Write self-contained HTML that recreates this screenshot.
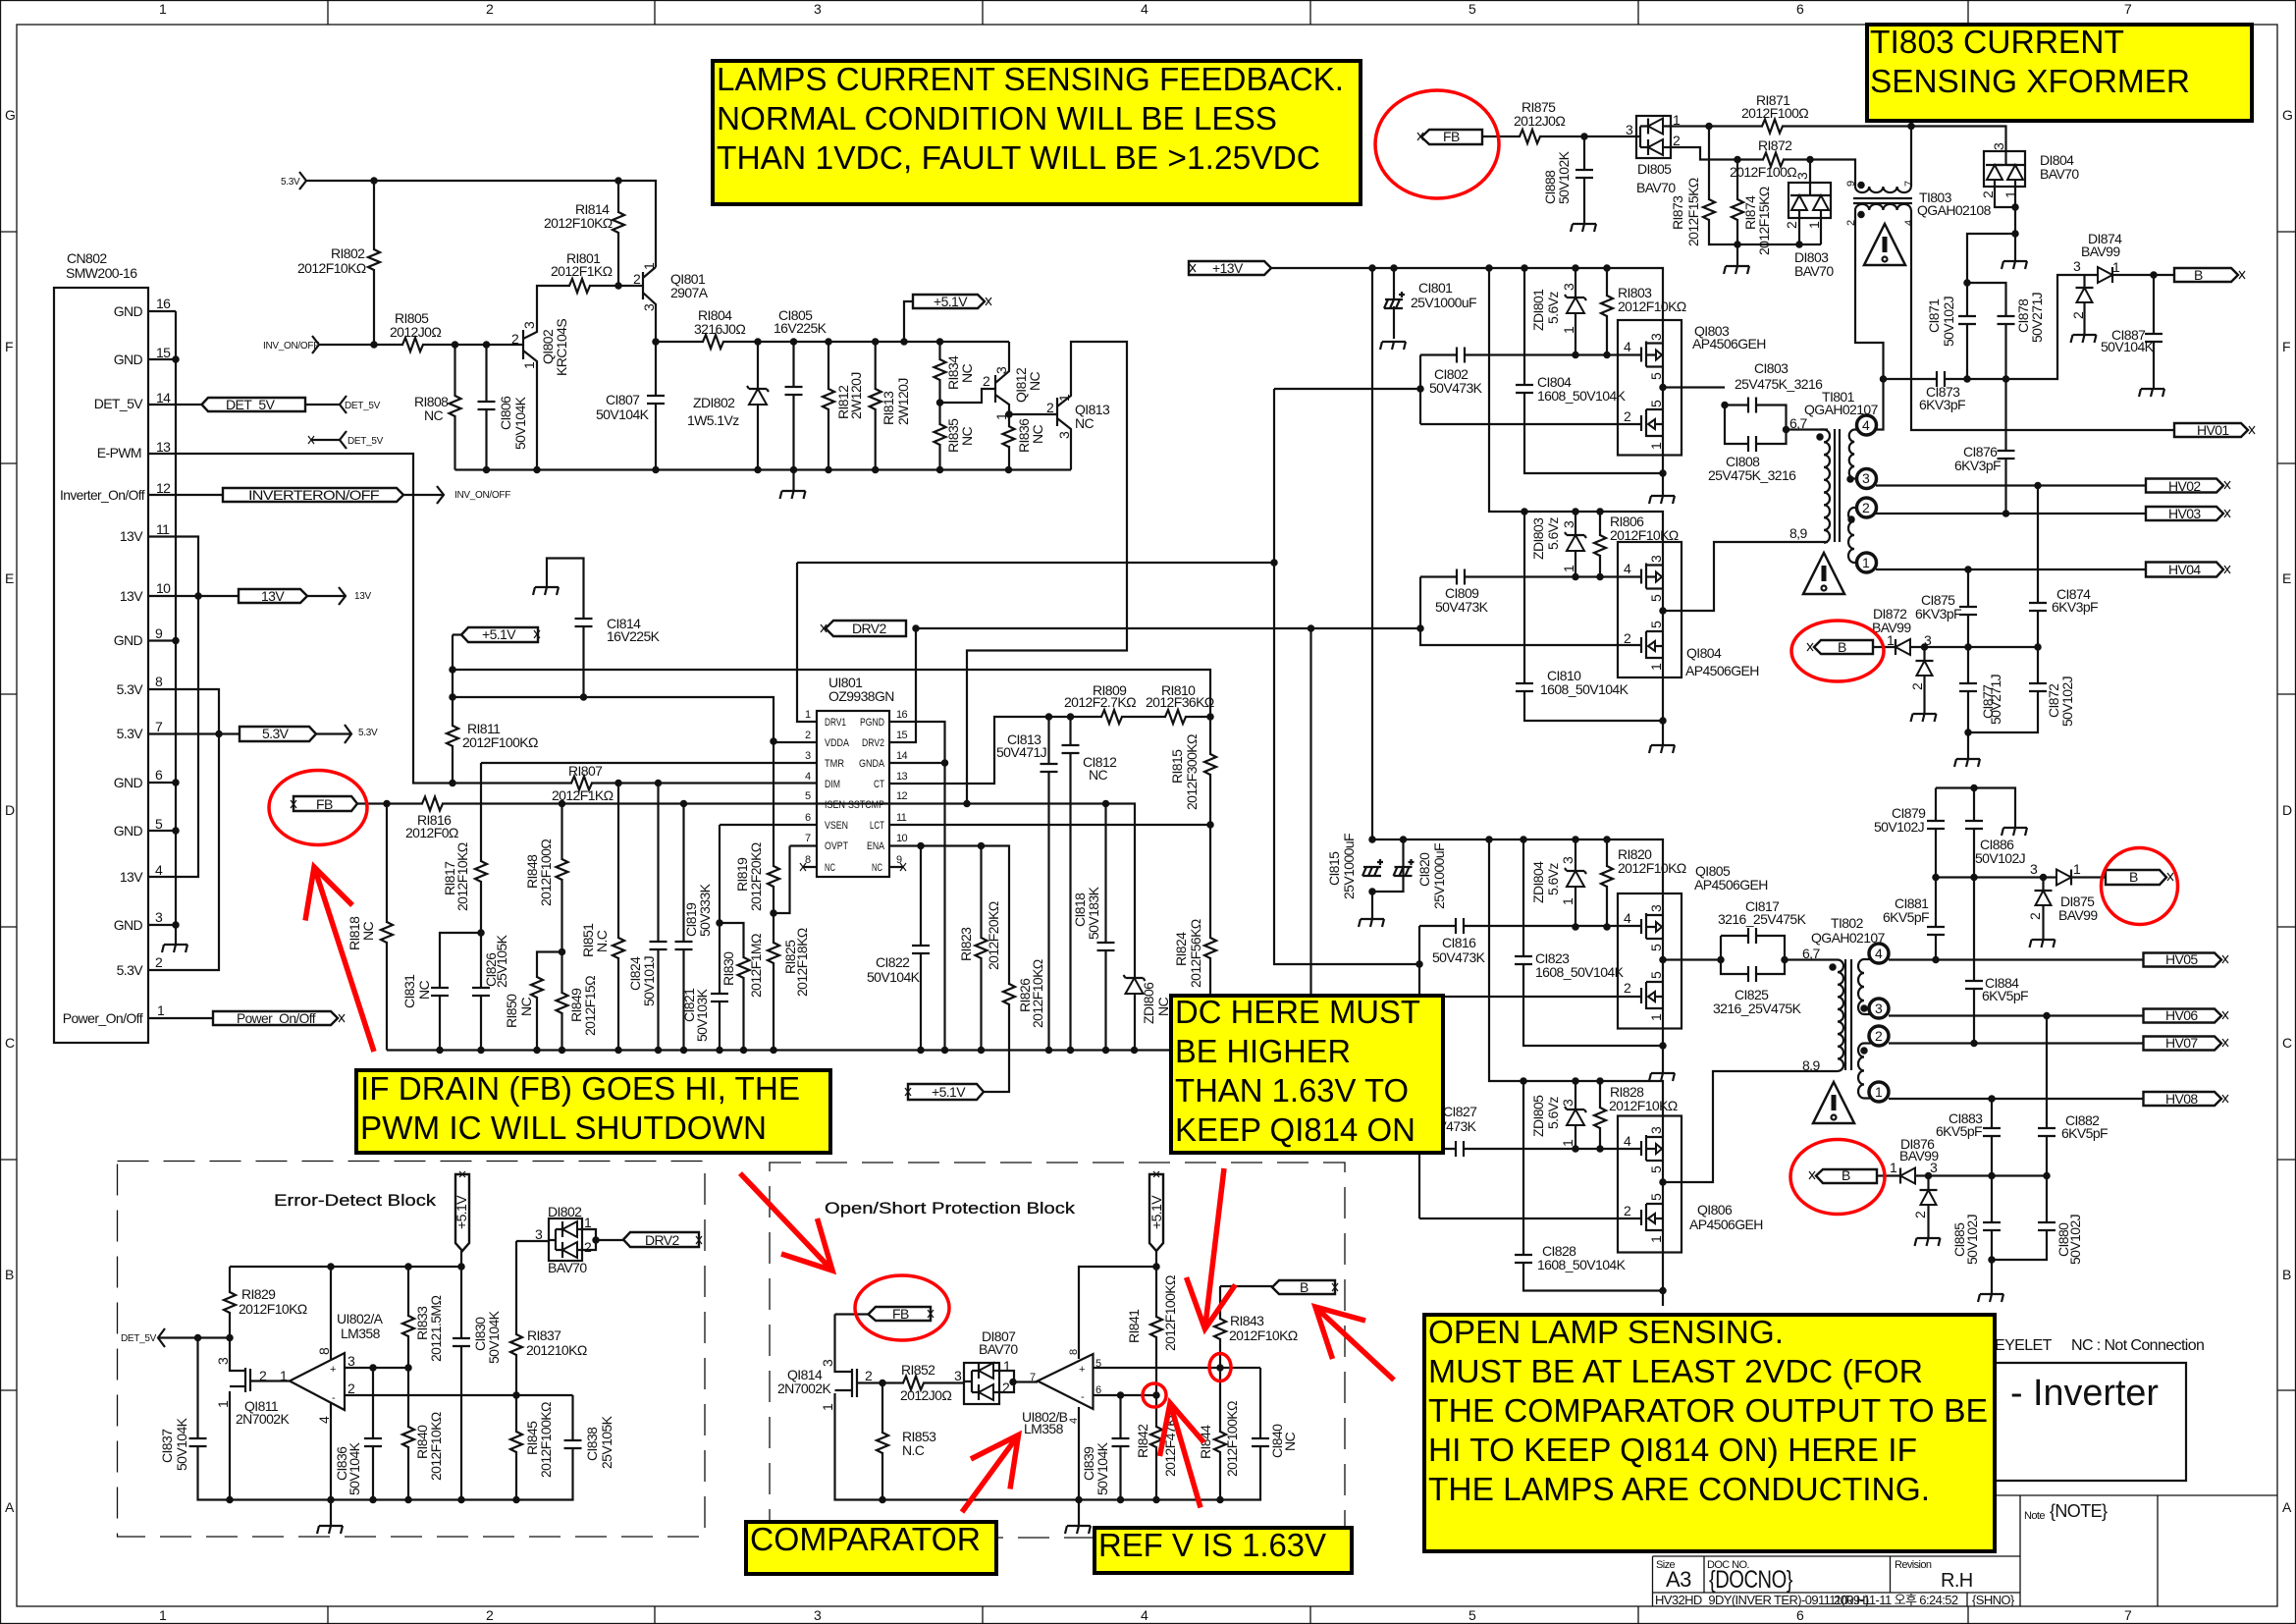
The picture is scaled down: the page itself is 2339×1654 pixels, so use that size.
<!DOCTYPE html>
<html><head><meta charset="utf-8"><style>
html,body{margin:0;padding:0;background:#fff}
svg{display:block}
text{font-family:"Liberation Sans","Noto Sans CJK KR",sans-serif;font-size:14px;fill:#111;stroke:none;letter-spacing:-.6px}
.s{font-size:10px;letter-spacing:-.3px}
.p{font-size:11px;letter-spacing:0}
.n{font-size:11px}
.b{font-size:33px;fill:#000;letter-spacing:0}
.h{font-size:17px;font-weight:400;stroke:#111;stroke-width:.3;letter-spacing:0}
.w{fill:none;stroke:#111;stroke-width:2.2}
.m{stroke:#fff;stroke-width:4}
.y{fill:#ff0;stroke:#000;stroke-width:4}
.c{fill:none;stroke:#f00;stroke-width:3.5}
.a{fill:none;stroke:#f00;stroke-width:5.5}
.f{fill:#fff;stroke:#111;stroke-width:2.4}
.e{fill:#fff;stroke:#111;stroke-width:2}
</style></head><body>
<svg width="2339" height="1654" viewBox="0 0 2339 1654" xmlns="http://www.w3.org/2000/svg">
<defs>
<g id="rv"><path class="m" d="M0 1V20"/><path d="M0 0L6 3L-6 8L6 13L-6 18L0 21"/></g>
<g id="rh"><path class="m" d="M1 0H20"/><path d="M0 0L3 -7L8 7L13 -7L18 7L21 0"/></g>
<g id="cv"><path class="m" d="M0-3V3"/><path d="M-9-4H9M-9 4H9"/></g>
<g id="ch"><path class="m" d="M-3 0H3"/><path d="M-4-8V8M4-8V8"/></g>
<g id="pol"><path class="m" d="M0-3V3"/><path d="M-9-4H9M-10 5L-6-4M-4 5L0-4M2 5L6-4M-10 5H9M5-9H11M8-12V-6"/></g>
<path id="g" d="M-12 0H12M-12 0L-14 8M0 0L-2 8M12 0L10 8"/>
<g id="fet"><path d="M-22-8V7M-17-14V12M-17-12H0M-17 12H0M-17 0H-7"/><path class="e" d="M-7-5V5L-1 0Z"/></g>
<g id="fe2"><path d="M-22-9V7M-17-15V13M-17-15H0M-17 12H0M-8 0H0"/><path class="e" d="M-8-5V5L-15 0Z"/></g>
<g id="dv"><path class="e" d="M0 0L-8 15H8Z"/><path d="M-9 0H9"/></g>
<g id="dr"><path class="e" d="M0-8V8L15 0Z"/><path d="M15-8V8"/></g>
<g id="dl"><path class="e" d="M15-8V8L0 0Z"/><path d="M0-8V8"/></g>
<g id="z"><path class="e" d="M0 0L-9 16H9Z"/><path d="M-9 0H9M9 0L11 3M-9 0L-11-3"/></g>
<g id="tri"><path class="e" style="stroke-width:2.5" d="M0 0L21 42H-21Z"/><path d="M0 13V29" style="stroke-width:5"/><circle cx="0" cy="36" r="2.5"/></g>
</defs>
<rect width="2339" height="1654" fill="#fff"/>
<g class="w" style="stroke-width:1.3">
<rect x=".5" y=".5" width="2338" height="1653"/>
<rect x="17" y="25" width="2303" height="1611"/>
<path d="M334 0V25M667 0V25M1001 0V25M1335 0V25M1669 0V25M2005 0V25M334 1636V1654M667 1636V1654M1001 1636V1654M1335 1636V1654M1669 1636V1654M2005 1636V1654M0 236H17M0 472H17M0 707H17M0 944H17M0 1181H17M0 1416H17M2320 236H2339M2320 472H2339M2320 707H2339M2320 944H2339M2320 1181H2339M2320 1416H2339"/>
<path stroke-dasharray="32 15" d="M119.500 1182.500H718V1565H119.500Z M784 1184H1370V1566H784Z"/>
<path d="M2033 1523H2320M2058 1523V1636M2198 1523V1636M1683.500 1585H2058M1683.500 1622H2058M1683.500 1585V1636M1736 1585V1622M1925.500 1585V1622M2004 1622V1636"/>
<path d="M2020 1388H2227V1508H2020" style="stroke-width:2.200"/>
</g>
<g font-size="16">
<text x="162" y="14">1</text><text x="495" y="14">2</text><text x="829" y="14">3</text><text x="1162" y="14">4</text><text x="1496" y="14">5</text><text x="1830" y="14">6</text><text x="2164" y="14">7</text>
<text x="162" y="1650">1</text><text x="495" y="1650">2</text><text x="829" y="1650">3</text><text x="1162" y="1650">4</text><text x="1496" y="1650">5</text><text x="1830" y="1650">6</text><text x="2164" y="1650">7</text>
<text x="5" y="122">G</text><text x="5" y="358">F</text><text x="5" y="594">E</text><text x="5" y="830">D</text><text x="5" y="1067">C</text><text x="5" y="1303">B</text><text x="5" y="1540">A</text>
<text x="2325" y="122">G</text><text x="2325" y="358">F</text><text x="2325" y="594">E</text><text x="2325" y="830">D</text><text x="2325" y="1067">C</text><text x="2325" y="1303">B</text><text x="2325" y="1540">A</text>
</g>
<g class="w" stroke-linejoin="miter">
<rect x="55" y="293" width="96" height="769"/>
<rect x="832" y="724" width="74" height="169"/>
<rect x="1648" y="326" width="65" height="137.500"/><rect x="1648" y="552" width="65" height="138"/><rect x="1648" y="910" width="65" height="137.500"/><rect x="1648" y="1136.500" width="65" height="139"/>
<rect x="1667" y="118" width="35" height="43"/><rect x="1822" y="186" width="43" height="36"/><rect x="2021" y="154" width="42" height="36"/>
<rect x="559" y="1241" width="34" height="43"/><rect x="982" y="1388" width="36" height="42"/>
<path d="M1667 139H1671M1671 128.500V150M1671 128.500H1679M1671 150H1679M1694 128.500H1702M1694 150H1702"/>
<path d="M559 1263H566M566 1252V1273M566 1252H573M566 1273H573M588 1252H607V1273H588"/>
<path d="M982 1407H990M990 1396V1418M990 1396H997M990 1418H997M1012 1396H1033V1418H1012"/>
<path d="M151 317H179M151 366H179M179 317V962M151 652.500H179M151 797H179M151 846H179M151 942H179M151 546.500H202V893H151M151 607H243M151 702H223V988H151M151 747.500H244M151 412H206M311 412H346M317 448H346M151 462H421V797.500H832M151 504H227M411 504H452M313 607H352M322 747.500H358M151 1037H217"/>
<path d="M353 403L346 412L353 421M353 439L346 448L353 457M445 495L452 504L445 513M345 598L352 607L345 616M351 738L358 747.500L351 757M305 175L312 184L305 193M318 342L325 351L318 360"/>
<path d="M312 184H668V272M381 184V351M325 351H533M463.500 351V478.500M495.500 351V478.500M463.500 478.500H1091M533 336V366M533 345L547 338V291H655M533 357L547 368V478.500M630 184V291M655 277V305M655 283L668 272M655 298L668 310V478.500M668 348H1028M921 348V307H930M772 348V478.500M808.500 348V500M844 348V478.500M891.700 348V478.500M957.500 348V478.500M957.500 410H1000V396H1014M1014 382V410M1014 390L1028 378V348M1014 402L1028 412V478.500M1028 422H1077M1077 405V434M1077 414L1091 403V348H1148V662.500H985V818.500M1077 426L1091 437V478.500"/>
<path d="M461 646.500H470M461 646.500V797.500M461 682H1233V1012M461 710H788V1069.500M594.500 710V568.500H557V598M490 777H832M490 777V1069.500M490 950H448V1069.500M363 818.500H1156V1069.500M394 818.500V1069.500M572.500 818.500V1069.500M572.500 969.500H547V1069.500M630 797.500V1069.500M670.500 797.500V1069.500M696.500 818.500V1069.500M733 840H832M733 840V1069.500M733 940H757.500V1069.500M788 756H832M804.500 861.500H832M804.500 861.500V930H788M394 1069.500H1191M812 573V735H832M906 735H962.500V1069.500M906 756H933V640M906 777H962.500M906 798H1013V730H1233M906 840H1233M906 861.500H1028V1112H1002M938 861.500V1069.500M999.500 861.500V1069.500M1068.500 730V1069.500M1090.500 730V1069.500M1126.500 818.500V1069.500M818 883H832M906 883H920"/>
<path d="M1295 273H1694V505M1398 273V855H1694V1093M1420 273V345M1517 273V521H1694V759M1553 273V482H1694M1605 273V361.500M1637 273V361.500M1447 361.500V432M1447 361.500H1672M1447 432H1672M1298 396H1447M1298 396V982H1446M812 573H1298M1694 394.500H1757M1757 412.500V452H1819.500V412.500H1757M1819.500 437.500H1862"/>
<path d="M1553 521V734H1694M1447 587.500H1672M1447 587.500V657H1672M933 640H1447M1335.500 640V1012M1605 521V587.500M1630 521V587.500M1694 622H1746V552H1862"/>
<path d="M1517 855V1101H1694V1330M1552 855V1065H1694M1446 943H1672M1446 943V1015H1672M1605 855V944M1637 855V944M1694 977.500H1753M1753 953V992H1818V953H1753M1818 977.500H1872M1552 1101V1314.500H1694M1446 1170V1241M1446 1170H1672M1446 1241H1672M1605 1101V1170M1630 1101V1170M1694 1204H1745V1091H1872"/>
<path d="M1510 139H1667M1614 139V228M1702 128.500H1947M1947 128.500H2043.500V168M1702 150H1732V162.500H1890V190M1741 128.500V249H1855M1770 162.500V271M1844 162.500V199M1833 214V249M1855 214V249M2032 182V211H2053M2053 182V266M2053 238H2004V386M2004 288H2043.500V523M1947 128.500V190M1947 214V438H2215M1890 214V349H1918.500V437.500H1911M1918.500 386H2096V280H2137M2153 280H2215M2194 280V396"/>
<path d="M2123.500 280V341M1911 494.500H2186M1911 523H2186M1911 580H2186M2076 494.500V746H2005M2005 580V773M1908 659H1931M1946 659H2076M1960.500 659V673M1960.500 689V727"/>
<path d="M1924 977.500H2183.500M1924 1034.500H2183.500M1924 1062.500H2183.500M1924 1119H2183.500M1972 802.500H2053V843M1972 802.500V977.500M2011 802.500V1062.500M1972 893.500H2095M2110 893.500H2145M2081.500 893.500V907M2081.500 923V957M2085 1034.500V1283H2029M2029 1119V1318M1912 1197.500H1936M1951 1197.500H2085M1964.500 1197.500V1212M1964.500 1228V1261"/>
<path d="M234 1290H470M234 1290V1396H250M234 1417V1527.500M161 1362.500H234M201.500 1362.500V1527.500H583.500V1421M351 1393H416M351 1421H583.500M337 1290V1385M337 1428V1554M380 1393V1527.500M416 1290V1527.500M470 1274V1527.500M526 1264V1527.500M526 1264H559M255 1406.500H295M607 1263H635M250 1393V1418M255 1394V1417M250 1396L234 1396M250 1412H234"/>
<path d="M295 1406.500L351 1378V1436Z"/>
<path d="M168 1353L161 1362.500L168 1372"/>
<path d="M1178 1274V1527.500M1178 1290H1099V1384M1099 1433V1554M850.500 1338.500H884.500M850.500 1338.500V1397H868M850.500 1419V1527.500H1284V1393M868 1394V1423M873 1394V1423M868 1397H850.500M868 1416H850.500M873 1408.500H982M899 1408.500V1527.500M1033 1407.500H1057M1113.500 1393H1284M1113.500 1421H1178M1141.500 1421V1527.500M1243 1310V1527.500M1243 1310H1296"/>
<path d="M1057 1406.500L1113.500 1379V1435Z"/>
<path d="M1854 437.500H1858a6 6.400 0 0 1 0 12.800a6 6.400 0 0 1 0 12.800a6 6.400 0 0 1 0 12.800a6 6.400 0 0 1 0 12.800a6 6.400 0 0 1 0 12.800a6 6.400 0 0 1 0 12.800a6 6.400 0 0 1 0 12.800a6 6.400 0 0 1 0 12.800a6 6.400 0 0 1 0 12.800"/>
<path d="M1869 437V552M1874 437V552M1895 437.500H1889a6 6.300 0 0 0 0 12.500a6 6.300 0 0 0 0 12.500a6 6.300 0 0 0 0 12.500a6 6.300 0 0 0 0 12.500H1893M1895 517H1889a6 7 0 0 0 0 14a6 7 0 0 0 0 14a6 7 0 0 0 0 14a6 7 0 0 0 0 14H1895"/>
<path d="M1872 977.500a6 6.300 0 0 1 0 12.600a6 6.300 0 0 1 0 12.600a6 6.300 0 0 1 0 12.600a6 6.300 0 0 1 0 12.600a6 6.300 0 0 1 0 12.600a6 6.300 0 0 1 0 12.600a6 6.300 0 0 1 0 12.600a6 6.300 0 0 1 0 12.600a6 6.300 0 0 1 0 12.600"/>
<path d="M1880 977V1090M1886 977V1090M1906 977H1899a6 7 0 0 0 0 14a6 7 0 0 0 0 14a6 7 0 0 0 0 14a6 7 0 0 0 0 14H1906M1906 1062.500H1899a6 7 0 0 0 0 14a6 7 0 0 0 0 14a6 7 0 0 0 0 14a6 7 0 0 0 0 14H1906"/>
<path d="M1890 190a7 6 0 0 0 14.200 0a7 6 0 0 0 14.200 0a7 6 0 0 0 14.200 0a7 6 0 0 0 14.200 0M1890 214a7 6 0 0 1 14.200 0a7 6 0 0 1 14.200 0a7 6 0 0 1 14.200 0a7 6 0 0 1 14.200 0M1888 202H1948M1888 207H1948" />
<use href="#rv" x="381" y="254"/><use href="#rv" x="630" y="216"/><use href="#rh" x="580" y="291"/><use href="#rh" x="410" y="351"/><use href="#rv" x="463.500" y="403"/><use href="#rh" x="716" y="348"/>
<use href="#rv" x="844" y="396"/><use href="#rv" x="891.700" y="396"/><use href="#rv" x="957.500" y="366"/><use href="#rv" x="957.500" y="432"/><use href="#rv" x="1027.500" y="434"/>
<use href="#rv" x="461" y="739"/><use href="#rh" x="582" y="797.500"/><use href="#rh" x="430" y="818.500"/><use href="#rv" x="394" y="939"/><use href="#rv" x="490" y="877"/><use href="#rv" x="572.500" y="875"/><use href="#rv" x="547" y="995"/><use href="#rv" x="572.500" y="1011"/><use href="#rv" x="630" y="955"/><use href="#rv" x="757.500" y="975"/><use href="#rv" x="788" y="882"/><use href="#rv" x="788" y="960"/>
<use href="#rh" x="1122" y="730"/><use href="#rh" x="1187" y="730"/><use href="#rv" x="1233" y="768"/><use href="#rv" x="1233" y="955"/><use href="#rv" x="999.500" y="955"/><use href="#rv" x="1028" y="1002"/>
<use href="#rv" x="1637" y="301"/><use href="#rv" x="1630" y="545"/><use href="#rv" x="1637" y="882"/><use href="#rv" x="1630" y="1128"/>
<use href="#rh" x="1548" y="139"/><use href="#rh" x="1795" y="128.500"/><use href="#rh" x="1796" y="162.500"/><use href="#rv" x="1741" y="203"/><use href="#rv" x="1770" y="203"/>
<use href="#rv" x="234" y="1316"/><use href="#rv" x="416" y="1340"/><use href="#rv" x="416" y="1453"/><use href="#rv" x="526" y="1359"/><use href="#rv" x="526" y="1458"/>
<use href="#rh" x="920" y="1408.500"/><use href="#rv" x="899" y="1459"/><use href="#rv" x="1178" y="1341"/><use href="#rv" x="1178" y="1453"/><use href="#rv" x="1243" y="1343"/><use href="#rv" x="1243" y="1458"/>
<use href="#cv" x="495.500" y="413"/><use href="#cv" x="668" y="407"/><use href="#cv" x="808.500" y="398"/><use href="#cv" x="594.500" y="634"/><use href="#cv" x="448" y="1010"/><use href="#cv" x="490" y="1010"/><use href="#cv" x="670.500" y="963"/><use href="#cv" x="696.500" y="963"/><use href="#cv" x="733" y="1016"/><use href="#cv" x="938" y="967"/><use href="#cv" x="1068.500" y="782"/><use href="#cv" x="1090.500" y="763"/><use href="#cv" x="1126.500" y="964"/>
<use href="#cv" x="1553" y="396"/><use href="#cv" x="1553" y="700"/><use href="#cv" x="1552" y="978"/><use href="#cv" x="1552" y="1282"/><use href="#cv" x="1614" y="177"/><use href="#cv" x="2004" y="326"/><use href="#cv" x="2043.500" y="326"/><use href="#cv" x="2194" y="344"/><use href="#cv" x="2043.500" y="463"/><use href="#cv" x="2005" y="622"/><use href="#cv" x="2076" y="618"/><use href="#cv" x="2005" y="700"/><use href="#cv" x="2076" y="700"/><use href="#cv" x="1972" y="840"/><use href="#cv" x="2011" y="840"/><use href="#cv" x="1972" y="948"/><use href="#cv" x="2011" y="1003"/><use href="#cv" x="2029" y="1153"/><use href="#cv" x="2085" y="1153"/><use href="#cv" x="2029" y="1249"/><use href="#cv" x="2085" y="1249"/>
<use href="#cv" x="201.500" y="1469"/><use href="#cv" x="380" y="1469"/><use href="#cv" x="470" y="1367"/><use href="#cv" x="583.500" y="1471"/><use href="#cv" x="1141.500" y="1469"/><use href="#cv" x="1284" y="1469"/>
<use href="#ch" x="1488" y="361.500"/><use href="#ch" x="1488" y="587.500"/><use href="#ch" x="1487" y="943"/><use href="#ch" x="1487" y="1170"/><use href="#ch" x="1785" y="412.500"/><use href="#ch" x="1785" y="452"/><use href="#ch" x="1785" y="953"/><use href="#ch" x="1785" y="992"/><use href="#ch" x="1977" y="386"/>
<use href="#pol" x="1420" y="309"/><use href="#pol" x="1398" y="887"/><use href="#pol" x="1429.500" y="887"/>
<path d="M1429.500 855V908H1398V936"/>
<use href="#g" x="179" y="962"/><use href="#g" x="808.500" y="500"/><use href="#g" x="557" y="598"/><use href="#g" x="1420" y="348"/><use href="#g" x="1614" y="228"/><use href="#g" x="1770" y="271"/><use href="#g" x="2053" y="266"/><use href="#g" x="2123.500" y="341"/><use href="#g" x="2193" y="396"/><use href="#g" x="1694" y="505"/><use href="#g" x="1694" y="759"/><use href="#g" x="1960.500" y="727"/><use href="#g" x="2005" y="773"/><use href="#g" x="1398" y="936"/><use href="#g" x="2053" y="843"/><use href="#g" x="2081.500" y="957"/><use href="#g" x="1694" y="1093"/><use href="#g" x="1964.500" y="1261"/><use href="#g" x="2029" y="1318"/><use href="#g" x="337" y="1554"/><use href="#g" x="1099" y="1554"/>
<use href="#fet" x="1694" y="361.500"/><use href="#fe2" x="1694" y="432"/><use href="#fet" x="1694" y="587.500"/><use href="#fe2" x="1694" y="658"/><use href="#fet" x="1694" y="944"/><use href="#fe2" x="1694" y="1015"/><use href="#fet" x="1694" y="1170"/><use href="#fe2" x="1694" y="1241"/>
<use href="#z" x="772" y="396"/><use href="#z" x="1605" y="303"/><use href="#z" x="1605" y="545"/><use href="#z" x="1605" y="887"/><use href="#z" x="1605" y="1130"/><use href="#z" x="1155.500" y="996"/>
<use href="#dv" x="1960.500" y="673"/><use href="#dv" x="2123.500" y="293"/><use href="#dv" x="2081.500" y="907"/><use href="#dv" x="1964.500" y="1212"/>
<use href="#dv" x="1833" y="199"/><use href="#dv" x="1855" y="199"/><use href="#dv" x="2032" y="168"/><use href="#dv" x="2053" y="168"/>
<path d="M1833 199H1855M2032 168H2053"/>
<use href="#dr" x="2137" y="280"/><use href="#dr" x="2095" y="893.500"/><use href="#dl" x="1931" y="659"/><use href="#dl" x="1936" y="1197.500"/>
<use href="#dl" x="1679" y="128.500"/><use href="#dl" x="1679" y="150"/><use href="#dl" x="573" y="1252"/><use href="#dl" x="573" y="1273"/><use href="#dl" x="997" y="1396"/><use href="#dl" x="997" y="1418"/>
<use href="#tri" x="1920" y="228"/><use href="#tri" x="1858" y="563"/><use href="#tri" x="1868" y="1102"/>
<polygon class="f" points="205.500,412 212,405 311,405 311,419 212,419"/>
<polygon class="f" points="227,497 404,497 411,504 404,511 227,511"/>
<polygon class="f" points="243,600 306,600 313,607 306,614 243,614"/>
<polygon class="f" points="244,740 315,740 322,747.500 315,755 244,755"/>
<polygon class="f" points="217,1030 337,1030 344,1037 337,1044 217,1044"/>
<polygon class="f" points="470,646.500 477,639 548,639 548,654 477,654"/>
<polygon class="f" points="299,811 358,811 364,818.500 358,826 299,826"/>
<polygon class="f" points="841,640 849,632 923,632 923,648 849,648"/>
<polygon class="f" points="930,300 996,300 1003,307 996,314 930,314"/>
<polygon class="f" points="925,1104 995,1104 1002,1112 995,1120 925,1120"/>
<polygon class="f" points="1211,266 1288,266 1295,273 1288,280 1211,280"/>
<polygon class="f" points="1448,139.500 1456,132 1510,132 1510,147 1456,147"/>
<polygon class="f" points="2215,273 2273,273 2280,280 2273,287 2215,287"/>
<polygon class="f" points="2215,431 2283,431 2290,438 2283,445 2215,445"/>
<polygon class="f" points="2186,487.500 2258,487.500 2265,494.500 2258,501.500 2186,501.500"/>
<polygon class="f" points="2186,516 2258,516 2265,523 2258,530 2186,530"/>
<polygon class="f" points="2186,572.500 2258,572.500 2265,580 2258,587.500 2186,587.500"/>
<polygon class="f" points="1848,659 1855,652 1908,652 1908,666 1855,666"/>
<polygon class="f" points="2145,886 2200,886 2207,893.500 2200,901 2145,901"/>
<polygon class="f" points="2183.500,970.500 2256,970.500 2263,977.500 2256,984.500 2183.500,984.500"/>
<polygon class="f" points="2183.500,1027.500 2256,1027.500 2263,1034.500 2256,1041.500 2183.500,1041.500"/>
<polygon class="f" points="2183.500,1055.500 2256,1055.500 2263,1062.500 2256,1069.500 2183.500,1069.500"/>
<polygon class="f" points="2183.500,1112 2256,1112 2263,1119 2256,1126 2183.500,1126"/>
<polygon class="f" points="1850,1197.500 1857,1191 1912,1191 1912,1205 1857,1205"/>
<polygon class="f" points="464,1196 478,1196 478,1266 471,1274 464,1266"/>
<polygon class="f" points="1171,1196 1185,1196 1185,1266 1178,1274 1171,1266"/>
<polygon class="f" points="635,1262.500 642,1255 712,1255 712,1270 642,1270"/>
<polygon class="f" points="884.500,1338.500 892,1331 948,1331 948,1345 892,1345"/>
<polygon class="f" points="1296,1311 1303,1304 1360,1304 1360,1318 1303,1318"/>
<g style="stroke-width:1.200"><path d="M314 444L320 452M320 444L314 452M1004 303L1010 311M1010 303L1004 311M1444 135L1450 143M1450 135L1444 143M2281 276L2287 284M2287 276L2281 284M2291 434L2297 442M2297 434L2291 442M2266 490L2272 498M2272 490L2266 498M2266 519L2272 527M2272 519L2266 527M2266 576L2272 584M2272 576L2266 584M1841 655L1847 663M1847 655L1841 663M2208 889L2214 897M2214 889L2208 897M2264 973L2270 981M2270 973L2264 981M2264 1030L2270 1038M2270 1030L2264 1038M2264 1058L2270 1066M2270 1058L2264 1066M2264 1115L2270 1123M2270 1115L2264 1123M1843 1193L1849 1201M1849 1193L1843 1201M296 815L302 823M302 815L296 823M544 642L550 650M550 642L544 650M836 636L842 644M842 636L836 644M345 1033L351 1041M351 1033L345 1041M922 1108L928 1116M928 1108L922 1116M1212 269L1218 277M1218 269L1212 277M815 879L821 887M821 879L815 887M917 879L923 887M923 879L917 887M468 1193L474 1199M474 1193L468 1199M1175 1193L1181 1199M1181 1193L1175 1199M709 1259L715 1267M715 1259L709 1267M945 1334L951 1342M951 1334L945 1342M1357 1307L1363 1315M1363 1307L1357 1315"/></g>
<g fill="#fff" style="stroke-width:3.500"><circle cx="1901.500" cy="433" r="10"/><circle cx="1901.500" cy="487.500" r="10"/><circle cx="1901.500" cy="517" r="10"/><circle cx="1901.500" cy="573" r="10"/><circle cx="1914" cy="971" r="10"/><circle cx="1914" cy="1027" r="10"/><circle cx="1914" cy="1055" r="10"/><circle cx="1914" cy="1112" r="10"/></g>
<path style="stroke-width:7.500;stroke-linecap:round" d="M179 366h0M179 652.500h0M179 797h0M179 846h0M179 942h0M202 607h0M223 747.500h0M381 184h0M630 184h0M381 351h0M463.500 351h0M495.500 351h0M630 291h0M668 348h0M772 348h0M808.500 348h0M844 348h0M891.700 348h0M921 348h0M957.500 348h0M495.500 478.500h0M547 478.500h0M668 478.500h0M772 478.500h0M808.500 478.500h0M844 478.500h0M891.700 478.500h0M957.500 478.500h0M1027.500 478.500h0M957.500 410h0M1028 422h0M461 682h0M461 710h0M594.500 710h0M461 797.500h0M394 818.500h0M572.500 818.500h0M630 797.500h0M670.500 797.500h0M696.500 818.500h0M490 950h0M572.500 969.500h0M733 940h0M788 755h0M788 930h0M448 1069.500h0M490 1069.500h0M547 1069.500h0M572.500 1069.500h0M630 1069.500h0M670.500 1069.500h0M696.500 1069.500h0M733 1069.500h0M757.500 1069.500h0M788 1069.500h0M938 1069.500h0M962.500 1069.500h0M999.500 1069.500h0M1068.500 1069.500h0M1090.500 1069.500h0M1126.500 1069.500h0M1155.500 1069.500h0M962.500 777h0M933 640h0M938 861.500h0M999.500 861.500h0M985 818.500h0M1126.500 818.500h0M1068.500 730h0M1090.500 730h0M1233 730h0M1233 840h0M1298 573h0M1447 396h0M1447 640h0M1335.500 640h0M1398 273h0M1420 273h0M1517 273h0M1553 273h0M1605 273h0M1637 273h0M1605 361.500h0M1637 361.500h0M1694 394.500h0M1694 482h0M1757 412.500h0M1819.500 437.500h0M1553 521h0M1605 521h0M1630 521h0M1605 587.500h0M1630 587.500h0M1694 622h0M1694 734h0M1398 855h0M1429.500 855h0M1517 855h0M1552 855h0M1605 855h0M1637 855h0M1398 908h0M1446 982h0M1605 944h0M1637 944h0M1694 977.500h0M1753 977.500h0M1818 977.500h0M1694 1065h0M1552 1101h0M1605 1101h0M1630 1101h0M1605 1170h0M1630 1170h0M1694 1204h0M1694 1314.500h0M1614 139h0M1741 128.500h0M1947 128.500h0M1770 162.500h0M1844 162.500h0M1770 249h0M1833 249h0M2053 211h0M2053 238h0M2004 288h0M1918.500 386h0M2004 386h0M2043.500 386h0M2194 280h0M2076 494.500h0M2043.500 523h0M2005 580h0M1960.500 659h0M2005 659h0M2076 659h0M2005 746h0M2011 802.500h0M1972 893.500h0M2011 893.500h0M2081.500 893.500h0M1972 977.500h0M2085 1034.500h0M2011 1062.500h0M2029 1119h0M1964.500 1197.500h0M2029 1197.500h0M2085 1197.500h0M2029 1283h0M1854 445h0M1885 488h0M1886 529h0M1867 985h0M1899 1027h0M1899 1070h0M1896 188.500h0M1896 218.500h0M234 1362.500h0M201.500 1362.500h0M337 1290h0M416 1290h0M470 1290h0M380 1393h0M416 1393h0M526 1421h0M234 1527.500h0M337 1527.500h0M380 1527.500h0M416 1527.500h0M470 1527.500h0M526 1527.500h0M607 1263h0M1178 1290h0M899 1408.500h0M1032 1407.500h0M1243 1393h0M1178 1421h0M1141.500 1421h0M899 1527.500h0M1099 1527.500h0M1141.500 1527.500h0M1178 1527.500h0M1243 1527.500h0"/>
</g>
<g>
<text x="68" y="268">CN802</text><text x="67" y="283">SMW200-16</text>
<g text-anchor="end"><text x="145" y="322">GND</text><text x="145" y="371">GND</text><text x="145" y="416">DET_5V</text><text x="144" y="466">E-PWM</text><text x="147" y="509" textLength="86" lengthAdjust="spacingAndGlyphs">Inverter_On/Off</text><text x="145" y="551">13V</text><text x="145" y="612">13V</text><text x="145" y="657">GND</text><text x="145" y="707">5.3V</text><text x="145" y="752">5.3V</text><text x="145" y="802">GND</text><text x="145" y="851">GND</text><text x="145" y="898">13V</text><text x="145" y="947">GND</text><text x="145" y="993">5.3V</text><text x="145" y="1042">Power_On/Off</text></g>
<text x="159" y="314">16</text><text x="159" y="364">15</text><text x="159" y="410">14</text><text x="159" y="460">13</text><text x="159" y="502">12</text><text x="159" y="544">11</text><text x="159" y="604">10</text><text x="158" y="650">9</text><text x="158" y="699">8</text><text x="158" y="745">7</text><text x="158" y="794">6</text><text x="158" y="844">5</text><text x="158" y="891">4</text><text x="158" y="939">3</text><text x="158" y="985">2</text><text x="160" y="1034">1</text>
<text x="230" y="417">DET_5V</text><text x="253" y="509" textLength="133" lengthAdjust="spacingAndGlyphs">INVERTERON/OFF</text><text x="266" y="612">13V</text><text x="267" y="752">5.3V</text><text x="241" y="1042" textLength="80" lengthAdjust="spacingAndGlyphs">Power_On/Off</text>
<text class="s" x="286" y="188">5.3V</text><text class="s" x="268" y="355">INV_ON/OFF</text><text class="s" x="351" y="416">DET_5V</text><text class="s" x="354" y="452">DET_5V</text><text class="s" x="463" y="507">INV_ON/OFF</text><text class="s" x="361" y="610">13V</text><text class="s" x="365" y="749">5.3V</text><text class="s" x="123" y="1366">DET_5V</text>
<text x="337" y="263">RI802</text><text x="303" y="278">2012F10KΩ</text><text x="586" y="218">RI814</text><text x="554" y="232">2012F10KΩ</text><text x="577" y="268">RI801</text><text x="561" y="281">2012F1KΩ</text><text x="683" y="289">QI801</text><text x="683" y="303">2907A</text><text x="402" y="329">RI805</text><text x="397" y="343">2012J0Ω</text><text x="422" y="414">RI808</text><text x="432" y="428">NC</text><text x="711" y="326">RI804</text><text x="707" y="340">3216J0Ω</text><text x="617" y="412">CI807</text><text x="607" y="427">50V104K</text><text x="706" y="415">ZDI802</text><text x="700" y="433">1W5.1Vz</text><text x="793" y="326">CI805</text><text x="788" y="339">16V225K</text>
<text transform="translate(520 438)rotate(-90)">CI806</text><text transform="translate(535 458)rotate(-90)">50V104K</text><text transform="translate(563 371)rotate(-90)">QI802</text><text transform="translate(577 383)rotate(-90)">KRC104S</text>
<text transform="translate(864 427)rotate(-90)">RI812</text><text transform="translate(877 427)rotate(-90)">2W120J</text><text transform="translate(910 433)rotate(-90)">RI813</text><text transform="translate(925 433)rotate(-90)">2W120J</text><text transform="translate(976 397)rotate(-90)">RI834</text><text transform="translate(990 390)rotate(-90)">NC</text><text transform="translate(976 461)rotate(-90)">RI835</text><text transform="translate(990 454)rotate(-90)">NC</text><text transform="translate(1048 461)rotate(-90)">RI836</text><text transform="translate(1062 452)rotate(-90)">NC</text><text transform="translate(1045 410)rotate(-90)">QI812</text><text transform="translate(1059 398)rotate(-90)">NC</text>
<text x="1095" y="422">QI813</text><text x="1095" y="436">NC</text>
<text x="521" y="350">2</text><text x="645" y="289">2</text><text x="1001" y="393">2</text><text x="1066" y="420">2</text>
<text transform="translate(544 335)rotate(-90)">3</text><text transform="translate(544 376)rotate(-90)">1</text><text transform="translate(666 275)rotate(-90)">1</text><text transform="translate(666 317)rotate(-90)">3</text><text transform="translate(1025 381)rotate(-90)">3</text><text transform="translate(1025 428)rotate(-90)">1</text><text transform="translate(1089 409)rotate(-90)">1</text><text transform="translate(1089 447)rotate(-90)">3</text>
<text x="951" y="312">+5.1V</text><text x="1235" y="278">+13V</text><text x="1470" y="144">FB</text><text x="491" y="651">+5.1V</text><text x="322" y="824">FB</text><text x="868" y="645">DRV2</text><text x="949" y="1117">+5.1V</text>
<text x="618" y="640">CI814</text><text x="618" y="653">16V225K</text><text x="476" y="747">RI811</text><text x="471" y="761">2012F100KΩ</text><text x="579" y="790">RI807</text><text x="562" y="815">2012F1KΩ</text><text x="425" y="840">RI816</text><text x="413" y="853">2012F0Ω</text>
<text transform="translate(366 968)rotate(-90)">RI818</text><text transform="translate(380 958)rotate(-90)">NC</text><text transform="translate(463 912)rotate(-90)">RI817</text><text transform="translate(476 928)rotate(-90)">2012F10KΩ</text><text transform="translate(547 905)rotate(-90)">RI848</text><text transform="translate(561 923)rotate(-90)">2012F100Ω</text><text transform="translate(505 1005)rotate(-90)">CI826</text><text transform="translate(516 1006)rotate(-90)">25V105K</text><text transform="translate(422 1027)rotate(-90)">CI831</text><text transform="translate(437 1018)rotate(-90)">NC</text><text transform="translate(526 1047)rotate(-90)">RI850</text><text transform="translate(541 1035)rotate(-90)">NC</text><text transform="translate(592 1041)rotate(-90)">RI849</text><text transform="translate(606 1055)rotate(-90)">2012F15Ω</text><text transform="translate(604 975)rotate(-90)">RI851</text><text transform="translate(618 970)rotate(-90)">N.C</text><text transform="translate(652 1009)rotate(-90)">CI824</text><text transform="translate(666 1025)rotate(-90)">50V101J</text><text transform="translate(709 954)rotate(-90)">CI819</text><text transform="translate(723 954)rotate(-90)">50V333K</text><text transform="translate(707 1041)rotate(-90)">CI821</text><text transform="translate(720 1061)rotate(-90)">50V103K</text><text transform="translate(761 908)rotate(-90)">RI819</text><text transform="translate(775 928)rotate(-90)">2012F20KΩ</text><text transform="translate(747 1004)rotate(-90)">RI830</text><text transform="translate(775 1016)rotate(-90)">2012F1MΩ</text><text transform="translate(810 992)rotate(-90)">RI825</text><text transform="translate(822 1015)rotate(-90)">2012F18KΩ</text>
<text x="844" y="700">UI801</text><text x="844" y="714">OZ9938GN</text>
<text class="p" x="840" y="739" textLength="22" lengthAdjust="spacingAndGlyphs">DRV1</text><text class="p" x="840" y="760" textLength="25" lengthAdjust="spacingAndGlyphs">VDDA</text><text class="p" x="840" y="781" textLength="20" lengthAdjust="spacingAndGlyphs">TMR</text><text class="p" x="840" y="802" textLength="16" lengthAdjust="spacingAndGlyphs">DIM</text><text class="p" x="840" y="823" textLength="21" lengthAdjust="spacingAndGlyphs">ISEN</text><text class="p" x="840" y="844" textLength="24" lengthAdjust="spacingAndGlyphs">VSEN</text><text class="p" x="840" y="865" textLength="24" lengthAdjust="spacingAndGlyphs">OVPT</text><text class="p" x="840" y="887" textLength="11" lengthAdjust="spacingAndGlyphs">NC</text>
<text class="p" x="876" y="739" textLength="25" lengthAdjust="spacingAndGlyphs">PGND</text><text class="p" x="878" y="760" textLength="23" lengthAdjust="spacingAndGlyphs">DRV2</text><text class="p" x="875" y="781" textLength="26" lengthAdjust="spacingAndGlyphs">GNDA</text><text class="p" x="890" y="802" textLength="11" lengthAdjust="spacingAndGlyphs">CT</text><text class="p" x="864" y="823" textLength="37" lengthAdjust="spacingAndGlyphs">SSTCMP</text><text class="p" x="886" y="844" textLength="15" lengthAdjust="spacingAndGlyphs">LCT</text><text class="p" x="883" y="865" textLength="18" lengthAdjust="spacingAndGlyphs">ENA</text><text class="p" x="888" y="887" textLength="11" lengthAdjust="spacingAndGlyphs">NC</text>
<text class="n" x="820" y="731">1</text><text class="n" x="820" y="752">2</text><text class="n" x="820" y="773">3</text><text class="n" x="820" y="794">4</text><text class="n" x="820" y="814">5</text><text class="n" x="820" y="836">6</text><text class="n" x="820" y="857">7</text><text class="n" x="820" y="879">8</text><text class="n" x="913" y="731">16</text><text class="n" x="913" y="752">15</text><text class="n" x="913" y="773">14</text><text class="n" x="913" y="794">13</text><text class="n" x="913" y="814">12</text><text class="n" x="913" y="836">11</text><text class="n" x="913" y="857">10</text><text class="n" x="913" y="879">9</text>
<text x="1113" y="708">RI809</text><text x="1084" y="720">2012F2.7KΩ</text><text x="1183" y="708">RI810</text><text x="1167" y="720">2012F36KΩ</text><text x="1026" y="758">CI813</text><text x="1015" y="771">50V471J</text><text x="1103" y="781">CI812</text><text x="1109" y="794">NC</text><text x="892" y="985">CI822</text><text x="883" y="1000">50V104K</text>
<text transform="translate(1204 798)rotate(-90)">RI815</text><text transform="translate(1219 825)rotate(-90)">2012F300KΩ</text><text transform="translate(989 979)rotate(-90)">RI823</text><text transform="translate(1017 988)rotate(-90)">2012F20KΩ</text><text transform="translate(1049 1031)rotate(-90)">RI826</text><text transform="translate(1062 1047)rotate(-90)">2012F10KΩ</text><text transform="translate(1105 944)rotate(-90)">CI818</text><text transform="translate(1119 957)rotate(-90)">50V183K</text><text transform="translate(1175 1043)rotate(-90)">ZDI806</text><text transform="translate(1190 1035)rotate(-90)">NC</text><text transform="translate(1208 984)rotate(-90)">RI824</text><text transform="translate(1223 1006)rotate(-90)">2012F56KΩ</text><text transform="translate(1364 902)rotate(-90)">CI815</text><text transform="translate(1379 916)rotate(-90)">25V1000uF</text><text transform="translate(1456 903)rotate(-90)">CI820</text><text transform="translate(1471 926)rotate(-90)">25V1000uF</text>
<text x="1445" y="298">CI801</text><text x="1437" y="313">25V1000uF</text><text x="1461" y="386">CI802</text><text x="1456" y="400">50V473K</text><text x="1472" y="609">CI809</text><text x="1462" y="623">50V473K</text><text x="1469" y="965">CI816</text><text x="1459" y="980">50V473K</text><text x="1470" y="1137">CI827</text><text x="1450" y="1152">50V473K</text>
<text transform="translate(1572 337)rotate(-90)">ZDI801</text><text transform="translate(1587 330)rotate(-90)">5.6Vz</text><text transform="translate(1572 570)rotate(-90)">ZDI803</text><text transform="translate(1587 560)rotate(-90)">5.6Vz</text><text transform="translate(1572 920)rotate(-90)">ZDI804</text><text transform="translate(1587 912)rotate(-90)">5.6Vz</text><text transform="translate(1572 1158)rotate(-90)">ZDI805</text><text transform="translate(1587 1150)rotate(-90)">5.6Vz</text>
<text transform="translate(1603 296)rotate(-90)">3</text><text transform="translate(1603 340)rotate(-90)">1</text><text transform="translate(1603 538)rotate(-90)">3</text><text transform="translate(1603 583)rotate(-90)">1</text><text transform="translate(1602 880)rotate(-90)">3</text><text transform="translate(1602 922)rotate(-90)">1</text><text transform="translate(1602 1127)rotate(-90)">3</text><text transform="translate(1602 1168)rotate(-90)">1</text>
<text transform="translate(1692 347)rotate(-90)">3</text><text transform="translate(1692 387)rotate(-90)">5</text><text transform="translate(1692 415)rotate(-90)">5</text><text transform="translate(1692 458)rotate(-90)">1</text><text transform="translate(1692 573)rotate(-90)">3</text><text transform="translate(1692 613)rotate(-90)">5</text><text transform="translate(1692 640)rotate(-90)">5</text><text transform="translate(1692 683)rotate(-90)">1</text><text transform="translate(1692 929)rotate(-90)">3</text><text transform="translate(1692 969)rotate(-90)">5</text><text transform="translate(1692 997)rotate(-90)">5</text><text transform="translate(1692 1040)rotate(-90)">1</text><text transform="translate(1692 1155)rotate(-90)">3</text><text transform="translate(1692 1195)rotate(-90)">5</text><text transform="translate(1692 1223)rotate(-90)">5</text><text transform="translate(1692 1266)rotate(-90)">1</text>
<text transform="translate(1841 183)rotate(-90)">3</text><text transform="translate(1830 233)rotate(-90)">2</text><text transform="translate(1853 233)rotate(-90)">1</text><text transform="translate(2041 153)rotate(-90)">3</text><text transform="translate(2030 202)rotate(-90)">2</text><text transform="translate(2053 202)rotate(-90)">1</text>
<text transform="translate(2122 325)rotate(-90)">2</text><text transform="translate(1958 703)rotate(-90)">2</text><text transform="translate(2078 937)rotate(-90)">2</text><text transform="translate(1961 1241)rotate(-90)">2</text>
<text class="n" transform="translate(1889 190)rotate(-90)">9</text><text class="n" transform="translate(1948 190)rotate(-90)">7</text><text class="n" transform="translate(1889 230)rotate(-90)">2</text><text class="n" transform="translate(1948 230)rotate(-90)">4</text>
<text x="1648" y="303">RI803</text><text x="1648" y="317">2012F10KΩ</text><text x="1726" y="342">QI803</text><text x="1724" y="355">AP4506GEH</text><text x="1566" y="394">CI804</text><text x="1566" y="408">1608_50V104K</text><text x="1787" y="380">CI803</text><text x="1767" y="396">25V475K_3216</text><text x="1758" y="475">CI808</text><text x="1740" y="489">25V475K_3216</text><text x="1856" y="409">TI801</text><text x="1838" y="422">QGAH02107</text><text x="1823" y="436">6,7</text><text x="1823" y="548">8,9</text>
<text x="1550" y="114">RI875</text><text x="1542" y="128">2012J0Ω</text><text x="1789" y="107">RI871</text><text x="1774" y="120">2012F100Ω</text><text x="1791" y="153">RI872</text><text x="1762" y="180">2012F100Ω</text><text x="1668" y="177">DI805</text><text x="1667" y="196">BAV70</text><text x="1656" y="137">3</text><text x="1704" y="127">1</text><text x="1704" y="148">2</text><text x="1828" y="267">DI803</text><text x="1828" y="281">BAV70</text><text x="2078" y="168">DI804</text><text x="2078" y="182">BAV70</text><text x="1955" y="206">TI803</text><text x="1953" y="219">QGAH02108</text><text x="2127" y="248">DI874</text><text x="2120" y="261">BAV99</text><text x="2151" y="346">CI887</text><text x="2140" y="358">50V104K</text><text x="1962" y="404">CI873</text><text x="1955" y="417">6KV3pF</text><text x="2000" y="465">CI876</text><text x="1991" y="479">6KV3pF</text>
<text transform="translate(1584 208)rotate(-90)">CI888</text><text transform="translate(1598 208)rotate(-90)">50V102K</text><text transform="translate(1714 234)rotate(-90)">RI873</text><text transform="translate(1730 251)rotate(-90)">2012F15KΩ</text><text transform="translate(1788 234)rotate(-90)">RI874</text><text transform="translate(1802 260)rotate(-90)">2012F15KΩ</text><text transform="translate(1975 339)rotate(-90)">CI871</text><text transform="translate(1990 353)rotate(-90)">50V102J</text><text transform="translate(2066 339)rotate(-90)">CI878</text><text transform="translate(2080 349)rotate(-90)">50V271J</text>
<text x="2235" y="285">B</text><text x="2238" y="443">HV01</text><text x="2209" y="500">HV02</text><text x="2209" y="528">HV03</text><text x="2209" y="585">HV04</text><text x="1872" y="664">B</text><text x="2169" y="898">B</text><text x="2206" y="982">HV05</text><text x="2206" y="1039">HV06</text><text x="2206" y="1067">HV07</text><text x="2206" y="1124">HV08</text><text x="1876" y="1202">B</text>
<text x="1957" y="616">CI875</text><text x="1951" y="630">6KV3pF</text><text x="1908" y="630">DI872</text><text x="1907" y="644">BAV99</text><text x="2095" y="610">CI874</text><text x="2090" y="623">6KV3pF</text><text x="1718" y="670">QI804</text><text x="1717" y="688">AP4506GEH</text><text x="1576" y="693">CI810</text><text x="1569" y="707">1608_50V104K</text><text x="1640" y="536">RI806</text><text x="1640" y="550">2012F10KΩ</text>
<text transform="translate(2030 732)rotate(-90)">CI877</text><text transform="translate(2038 738)rotate(-90)">50V271J</text><text transform="translate(2097 731)rotate(-90)">CI872</text><text transform="translate(2111 740)rotate(-90)">50V102J</text><text transform="translate(2001 1280)rotate(-90)">CI885</text><text transform="translate(2014 1288)rotate(-90)">50V102J</text><text transform="translate(2107 1280)rotate(-90)">CI880</text><text transform="translate(2119 1288)rotate(-90)">50V102J</text>
<text x="1648" y="875">RI820</text><text x="1648" y="889">2012F10KΩ</text><text x="1727" y="892">QI805</text><text x="1726" y="906">AP4506GEH</text><text x="1778" y="928">CI817</text><text x="1750" y="941">3216_25V475K</text><text x="1564" y="981">CI823</text><text x="1564" y="995">1608_50V104K</text><text x="1767" y="1018">CI825</text><text x="1745" y="1032">3216_25V475K</text><text x="1865" y="945">TI802</text><text x="1845" y="960">QGAH02107</text><text x="1836" y="976">6,7</text><text x="1836" y="1090">8,9</text><text x="1927" y="833">CI879</text><text x="1909" y="847">50V102J</text><text x="2017" y="865">CI886</text><text x="2012" y="879">50V102J</text><text x="2099" y="923">DI875</text><text x="2097" y="937">BAV99</text><text x="1930" y="925">CI881</text><text x="1918" y="939">6KV5pF</text><text x="2022" y="1006">CI884</text><text x="2019" y="1019">6KV5pF</text><text x="1985" y="1144">CI883</text><text x="1972" y="1157">6KV5pF</text><text x="2104" y="1146">CI882</text><text x="2100" y="1159">6KV5pF</text><text x="1936" y="1170">DI876</text><text x="1935" y="1182">BAV99</text><text x="1640" y="1117">RI828</text><text x="1639" y="1131">2012F10KΩ</text><text x="1729" y="1237">QI806</text><text x="1721" y="1252">AP4506GEH</text><text x="1571" y="1279">CI828</text><text x="1566" y="1293">1608_50V104K</text>
<text x="1897" y="438">4</text><text x="1897" y="492">3</text><text x="1897" y="522">2</text><text x="1897" y="578">1</text><text x="1910" y="976">4</text><text x="1910" y="1032">3</text><text x="1910" y="1060">2</text><text x="1910" y="1117">1</text>
<text x="1654" y="358">4</text><text x="1654" y="429">2</text><text x="1654" y="584">4</text><text x="1654" y="655">2</text><text x="1654" y="940">4</text><text x="1654" y="1011">2</text><text x="1654" y="1167">4</text><text x="1654" y="1238">2</text><text x="2112" y="276">3</text><text x="2152" y="277">1</text><text x="1922" y="657">1</text><text x="1960" y="657">3</text><text x="2068" y="890">3</text><text x="2112" y="890">1</text><text x="1925" y="1194">1</text><text x="1966" y="1194">3</text>
<text class="h" x="279" y="1228" textLength="165" lengthAdjust="spacingAndGlyphs">Error-Detect Block</text><text class="h" x="840" y="1236" textLength="255" lengthAdjust="spacingAndGlyphs">Open/Short Protection Block</text>
<text transform="translate(475 1252)rotate(-90)">+5.1V</text><text transform="translate(1183 1252)rotate(-90)">+5.1V</text><text x="657" y="1268">DRV2</text><text x="909" y="1343">FB</text><text x="1324" y="1316">B</text>
<text x="246" y="1323">RI829</text><text x="243" y="1338">2012F10KΩ</text><text x="343" y="1348">UI802/A</text><text x="347" y="1363">LM358</text><text x="537" y="1365">RI837</text><text x="536" y="1380">201210KΩ</text><text x="558" y="1239">DI802</text><text x="558" y="1296">BAV70</text><text x="545" y="1262">3</text><text x="595" y="1250">1</text><text x="595" y="1275">2</text><text x="249" y="1437">QI811</text><text x="240" y="1450">2N7002K</text><text x="264" y="1406">2</text><text x="285" y="1406">1</text><text x="354" y="1391">3</text><text x="354" y="1419">2</text><text x="336" y="1398" class="n">+</text><text x="338" y="1427" class="n">-</text>
<text transform="translate(232 1390)rotate(-90)">3</text><text transform="translate(232 1434)rotate(-90)">1</text><text transform="translate(335 1380)rotate(-90)">8</text><text transform="translate(335 1450)rotate(-90)">4</text><text transform="translate(848 1392)rotate(-90)">3</text><text transform="translate(848 1437)rotate(-90)">1</text><text class="n" transform="translate(1097 1380)rotate(-90)">8</text><text class="n" transform="translate(1097 1450)rotate(-90)">4</text>
<text transform="translate(435 1365)rotate(-90)">RI833</text><text transform="translate(449 1387)rotate(-90)">20121.5MΩ</text><text transform="translate(494 1376)rotate(-90)">CI830</text><text transform="translate(508 1389)rotate(-90)">50V104K</text><text transform="translate(175 1490)rotate(-90)">CI837</text><text transform="translate(190 1498)rotate(-90)">50V104K</text><text transform="translate(353 1508)rotate(-90)">CI836</text><text transform="translate(366 1523)rotate(-90)">50V104K</text><text transform="translate(435 1486)rotate(-90)">RI840</text><text transform="translate(449 1508)rotate(-90)">2012F10KΩ</text><text transform="translate(547 1482)rotate(-90)">RI845</text><text transform="translate(561 1505)rotate(-90)">2012F100KΩ</text><text transform="translate(608 1488)rotate(-90)">CI838</text><text transform="translate(623 1496)rotate(-90)">25V105K</text>
<text x="802" y="1405">QI814</text><text x="792" y="1419">2N7002K</text><text x="918" y="1400">RI852</text><text x="917" y="1426">2012J0Ω</text><text x="1000" y="1366">DI807</text><text x="997" y="1379">BAV70</text><text x="919" y="1468">RI853</text><text x="919" y="1482">N.C</text><text x="1041" y="1448">UI802/B</text><text x="1043" y="1460">LM358</text><text x="1253" y="1350">RI843</text><text x="1252" y="1365">2012F10KΩ</text><text x="881" y="1406">2</text><text x="972" y="1406">3</text><text x="1022" y="1396">1</text><text x="1021" y="1418">2</text><text x="1049" y="1406" class="n">7</text><text x="1116" y="1392" class="n">5</text><text x="1116" y="1419" class="n">6</text><text x="1099" y="1398" class="n">+</text><text x="1101" y="1426" class="n">-</text>
<text transform="translate(1160 1368)rotate(-90)">RI841</text><text transform="translate(1197 1376)rotate(-90)">2012F100KΩ</text><text transform="translate(1169 1485)rotate(-90)">RI842</text><text transform="translate(1197 1504)rotate(-90)">2012F47KΩ</text><text transform="translate(1233 1486)rotate(-90)">RI844</text><text transform="translate(1260 1504)rotate(-90)">2012F100KΩ</text><text transform="translate(1114 1508)rotate(-90)">CI839</text><text transform="translate(1128 1523)rotate(-90)">50V104K</text><text transform="translate(1306 1485)rotate(-90)">CI840</text><text transform="translate(1319 1478)rotate(-90)">NC</text>
<text x="2032" y="1375" style="font-size:16px">EYELET</text><text x="2110" y="1375" style="font-size:16px">NC : Not Connection</text>
<text x="2048" y="1431" style="font-size:38px;letter-spacing:0" textLength="151" lengthAdjust="spacingAndGlyphs">- Inverter</text>
<text x="2062" y="1547" class="n">Note</text><text x="2088" y="1545" style="font-size:18px">{NOTE}</text>
<text x="1687" y="1597" class="n">Size</text><text x="1697" y="1616" style="font-size:22px">A3</text><text x="1739" y="1597" class="n">DOC NO.</text><text x="1741" y="1617" style="font-size:25px" textLength="85" lengthAdjust="spacingAndGlyphs">{DOCNO}</text><text x="1930" y="1597" class="n">Revision</text><text x="1977" y="1616" style="font-size:20px">R.H</text>
<text x="1686" y="1634" style="font-size:13px">HV32HD_9DY(INVER TER)-091111(R.H)</text><text x="1868" y="1634" style="font-size:13px">2009-11-11 오후 6:24:52</text><text x="2009" y="1634" style="font-size:13px">{SHNO}</text>
</g>
<g class="c">
<ellipse cx="1464" cy="147" rx="63" ry="55"/><ellipse cx="324" cy="822.500" rx="50" ry="38"/><ellipse cx="1872" cy="663" rx="47" ry="31"/><ellipse cx="2179.500" cy="902.500" rx="39" ry="39"/><ellipse cx="1872" cy="1198.500" rx="48" ry="38"/><ellipse cx="919" cy="1332" rx="48" ry="33"/><ellipse cx="1176" cy="1421" rx="12" ry="12"/><ellipse cx="1243" cy="1392.500" rx="11" ry="14"/>
</g>
<g class="a">
<path d="M381 1071L320 883M311 937.500L320 883L359 922"/>
<path d="M754 1195L848 1294M832.500 1241L848 1294L796 1277"/>
<path d="M1247 1190L1227.500 1353.500M1208.500 1301L1227.500 1353.500L1258.500 1308.500"/>
<path d="M1420 1405.500L1340 1331M1391 1345L1340 1331L1357.500 1384"/>
<path d="M980 1540L1037.500 1461.500M989 1486L1037.500 1461.500L1029 1516.500"/>
<path d="M1223 1535.500L1192 1429M1181.500 1483L1192 1429L1226.500 1469"/>
</g>
<g>
<rect class="y" x="726" y="62" width="660" height="146"/>
<text class="b" x="730" y="92" textLength="639" lengthAdjust="spacingAndGlyphs">LAMPS CURRENT SENSING FEEDBACK.</text>
<text class="b" x="730" y="132" textLength="571" lengthAdjust="spacingAndGlyphs">NORMAL CONDITION WILL BE LESS</text>
<text class="b" x="730" y="172" textLength="615" lengthAdjust="spacingAndGlyphs">THAN 1VDC, FAULT WILL BE &gt;1.25VDC</text>
<rect class="y" x="1902" y="25" width="392" height="98"/>
<text class="b" x="1905" y="54" textLength="259" lengthAdjust="spacingAndGlyphs">TI803 CURRENT</text>
<text class="b" x="1905" y="94" textLength="326" lengthAdjust="spacingAndGlyphs">SENSING XFORMER</text>
<rect class="y" x="363" y="1090" width="483" height="84"/>
<text class="b" x="367" y="1120" textLength="448" lengthAdjust="spacingAndGlyphs">IF DRAIN (FB) GOES HI, THE</text>
<text class="b" x="367" y="1160" textLength="414" lengthAdjust="spacingAndGlyphs">PWM IC WILL SHUTDOWN</text>
<rect class="y" x="1193" y="1014" width="277" height="160"/>
<text class="b" x="1197" y="1042" textLength="250" lengthAdjust="spacingAndGlyphs">DC HERE MUST</text>
<text class="b" x="1197" y="1082" textLength="179" lengthAdjust="spacingAndGlyphs">BE HIGHER</text>
<text class="b" x="1197" y="1122" textLength="238" lengthAdjust="spacingAndGlyphs">THAN 1.63V TO</text>
<text class="b" x="1197" y="1162" textLength="245" lengthAdjust="spacingAndGlyphs">KEEP QI814 ON</text>
<rect class="y" x="1451" y="1339" width="581" height="241"/>
<text class="b" x="1455" y="1368" textLength="362" lengthAdjust="spacingAndGlyphs">OPEN LAMP SENSING.</text>
<text class="b" x="1455" y="1408" textLength="504" lengthAdjust="spacingAndGlyphs">MUST BE AT LEAST 2VDC (FOR</text>
<text class="b" x="1455" y="1448" textLength="570" lengthAdjust="spacingAndGlyphs">THE COMPARATOR OUTPUT TO BE</text>
<text class="b" x="1455" y="1488" textLength="498" lengthAdjust="spacingAndGlyphs">HI TO KEEP QI814 ON) HERE IF</text>
<text class="b" x="1455" y="1528" textLength="511" lengthAdjust="spacingAndGlyphs">THE LAMPS ARE CONDUCTING.</text>
<rect class="y" x="760" y="1550" width="255" height="53"/>
<text class="b" x="764" y="1579" textLength="235" lengthAdjust="spacingAndGlyphs">COMPARATOR</text>
<rect class="y" x="1115" y="1556" width="262" height="46"/>
<text class="b" x="1119" y="1585" textLength="232" lengthAdjust="spacingAndGlyphs">REF V IS 1.63V</text>
</g>
</svg>
</body></html>
